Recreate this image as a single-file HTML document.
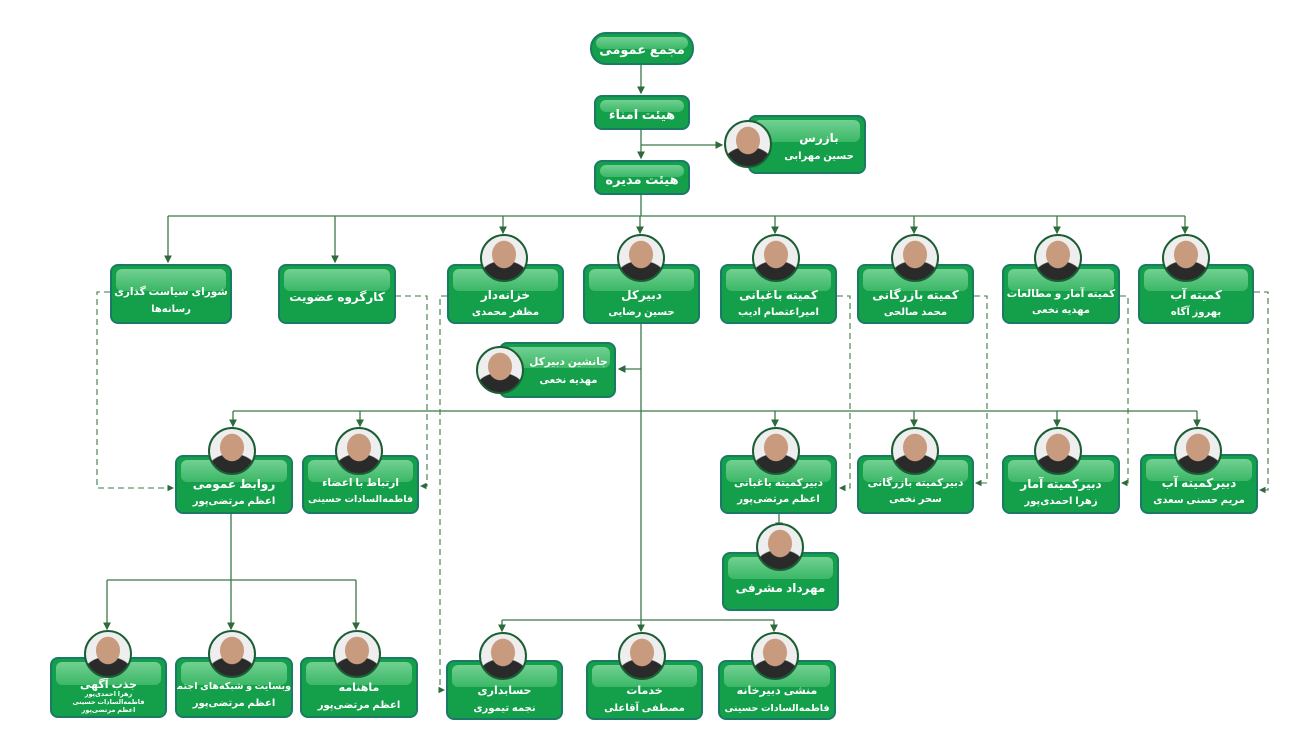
<!DOCTYPE html>
<html><head><meta charset="utf-8">
<style>
html,body{margin:0;padding:0;background:#fff;}
#c{position:relative;width:1314px;height:735px;overflow:hidden;font-family:"Liberation Sans","DejaVu Sans",sans-serif;}
.b{position:absolute;box-sizing:border-box;background:#14a04a;border:2px solid #1b7a66;border-radius:8px;color:#fff;font-weight:bold;direction:rtl;text-align:center;overflow:hidden;}
.b:before{content:"";position:absolute;left:4px;right:4px;top:3px;height:40%;border-radius:6px;background:linear-gradient(#9ae4b2,#4cc272);opacity:.7;}
.b span{position:relative;display:block;white-space:nowrap;}
.t1{font-size:12px;}
.t2{font-size:10px;}
.s{font-size:10.5px;}
.p{position:absolute;width:44px;height:44px;border-radius:50%;border:2px solid #1b5e35;background:radial-gradient(ellipse 28% 32% at 50% 42%,#c89b7e 0 95%,transparent 100%),radial-gradient(ellipse 60% 45% at 50% 100%,#2a2a2a 0 95%,transparent 100%),#eeeeee;}
svg{position:absolute;left:0;top:0;}
</style></head><body><div id="c">
<svg width="1314" height="735">
<defs><marker id="a" markerWidth="6" markerHeight="6" refX="5" refY="3" orient="auto"><path d="M0,0L6,3L0,6z" fill="#2e6b3a"/></marker></defs>
<g stroke="#3b7a48" stroke-width="1.3" fill="none">
<path d="M641 64V93" marker-end="url(#a)"/>
<path d="M641 129V158" marker-end="url(#a)"/>
<path d="M641 145H722" marker-end="url(#a)"/>
<path d="M641 194V216M168 216H1185"/>
<path d="M168 216V262" marker-end="url(#a)"/>
<path d="M335 216V262" marker-end="url(#a)"/>
<path d="M503 216V233" marker-end="url(#a)"/>
<path d="M640 216V233" marker-end="url(#a)"/>
<path d="M775 216V233" marker-end="url(#a)"/>
<path d="M914 216V233" marker-end="url(#a)"/>
<path d="M1057 216V233" marker-end="url(#a)"/>
<path d="M1185 216V233" marker-end="url(#a)"/>
<path d="M641 324V620"/>
<path d="M641 369H619" marker-end="url(#a)"/>
<path d="M233 411H1197"/>
<path d="M233 411V426" marker-end="url(#a)"/>
<path d="M360 411V426" marker-end="url(#a)"/>
<path d="M775 411V426" marker-end="url(#a)"/>
<path d="M914 411V426" marker-end="url(#a)"/>
<path d="M1057 411V426" marker-end="url(#a)"/>
<path d="M1197 411V426" marker-end="url(#a)"/>
<path d="M779 514V529" marker-end="url(#a)"/>
<path d="M231 514V580M107 580H356"/>
<path d="M107 580V629" marker-end="url(#a)"/>
<path d="M231 580V629" marker-end="url(#a)"/>
<path d="M356 580V629" marker-end="url(#a)"/>
<path d="M502 620H774"/>
<path d="M502 620V631" marker-end="url(#a)"/>
<path d="M641 620V631" marker-end="url(#a)"/>
<path d="M774 620V631" marker-end="url(#a)"/>
</g>
<g stroke="#3b7a48" stroke-width="1.1" fill="none" stroke-dasharray="6,4">
<path d="M110 292H97V488H173" marker-end="url(#a)"/>
<path d="M395 296H427V486H421" marker-end="url(#a)"/>
<path d="M447 296H440V690H444" marker-end="url(#a)"/>
<path d="M837 296H850V488H840" marker-end="url(#a)"/>
<path d="M974 296H987V483H976" marker-end="url(#a)"/>
<path d="M1120 296H1128V483H1122" marker-end="url(#a)"/>
<path d="M1254 292H1268V490H1260" marker-end="url(#a)"/>
</g>
</svg>

<div class="b" style="left:590px;top:32px;width:104px;height:33px;border-radius:16px;padding-top:8px"><span class="t1" style="font-size:13px">مجمع عمومی</span></div>
<div class="b" style="left:594px;top:95px;width:96px;height:35px;padding-top:10px"><span class="t1" style="font-size:13px">هیئت امناء</span></div>
<div class="b" style="left:594px;top:160px;width:96px;height:35px;padding-top:10px"><span class="t1" style="font-size:13px">هیئت مدیره</span></div>
<div class="b" style="left:748px;top:115px;width:118px;height:59px;padding-top:14px;padding-left:24px"><span class="t1">بازرس</span><span class="t2" style="margin-top:6px">حسین مهرابی</span></div>
<div class="p" style="left:724px;top:120px"></div>

<div class="b" style="left:110px;top:264px;width:122px;height:60px;padding-top:20px"><span class="t1 s">شورای سیاست گذاری</span><span class="t2" style="margin-top:6px">رسانه‌ها</span></div>
<div class="b" style="left:278px;top:264px;width:118px;height:60px;padding-top:24px"><span class="t1">کارگروه عضویت</span></div>

<div class="b" style="left:447px;top:264px;width:117px;height:60px;padding-top:22px"><span class="t1">خزانه‌دار</span><span class="t2" style="margin-top:5px">مظفر محمدی</span></div>
<div class="p" style="left:480px;top:234px"></div>
<div class="b" style="left:583px;top:264px;width:117px;height:60px;padding-top:22px"><span class="t1">دبیرکل</span><span class="t2" style="margin-top:5px">حسین رضایی</span></div>
<div class="p" style="left:617px;top:234px"></div>
<div class="b" style="left:720px;top:264px;width:117px;height:60px;padding-top:22px"><span class="t1">کمیته باغبانی</span><span class="t2" style="margin-top:5px">امیراعتصام ادیب</span></div>
<div class="p" style="left:752px;top:234px"></div>
<div class="b" style="left:857px;top:264px;width:117px;height:60px;padding-top:22px"><span class="t1">کمیته بازرگانی</span><span class="t2" style="margin-top:5px">محمد صالحی</span></div>
<div class="p" style="left:891px;top:234px"></div>
<div class="b" style="left:1002px;top:264px;width:118px;height:60px;padding-top:22px"><span class="t1 s">کمیته آمار و مطالعات</span><span class="t2" style="margin-top:5px">مهدیه نخعی</span></div>
<div class="p" style="left:1034px;top:234px"></div>
<div class="b" style="left:1138px;top:264px;width:116px;height:60px;padding-top:22px"><span class="t1">کمیته آب</span><span class="t2" style="margin-top:5px">بهروز آگاه</span></div>
<div class="p" style="left:1162px;top:234px"></div>

<div class="b" style="left:499px;top:342px;width:117px;height:56px;padding-top:12px;padding-left:22px"><span class="t1 s">جانشین دبیرکل</span><span class="t2" style="margin-top:7px">مهدیه نخعی</span></div>
<div class="p" style="left:476px;top:346px"></div>

<div class="b" style="left:175px;top:455px;width:118px;height:59px;padding-top:20px"><span class="t1">روابط عمومی</span><span class="t2" style="margin-top:5px">اعظم مرتضی‌پور</span></div>
<div class="p" style="left:208px;top:427px"></div>
<div class="b" style="left:302px;top:455px;width:117px;height:59px;padding-top:20px"><span class="t1 s">ارتباط با اعضاء</span><span class="t2" style="margin-top:5px;font-size:9.5px">فاطمه‌السادات حسینی</span></div>
<div class="p" style="left:335px;top:427px"></div>
<div class="b" style="left:720px;top:455px;width:117px;height:59px;padding-top:20px"><span class="t1 s">دبیرکمیته باغبانی</span><span class="t2" style="margin-top:5px">اعظم مرتضی‌پور</span></div>
<div class="p" style="left:752px;top:427px"></div>
<div class="b" style="left:857px;top:455px;width:117px;height:59px;padding-top:20px"><span class="t1 s">دبیرکمیته بازرگانی</span><span class="t2" style="margin-top:5px">سحر نخعی</span></div>
<div class="p" style="left:891px;top:427px"></div>
<div class="b" style="left:1002px;top:455px;width:118px;height:59px;padding-top:20px"><span class="t1">دبیرکمیته آمار</span><span class="t2" style="margin-top:5px">زهرا احمدی‌پور</span></div>
<div class="p" style="left:1034px;top:427px"></div>
<div class="b" style="left:1140px;top:454px;width:118px;height:60px;padding-top:20px"><span class="t1">دبیرکمیته آب</span><span class="t2" style="margin-top:5px">مریم حسنی سعدی</span></div>
<div class="p" style="left:1174px;top:427px"></div>

<div class="b" style="left:722px;top:552px;width:117px;height:59px;padding-top:27px"><span class="t1">مهرداد مشرفی</span></div>
<div class="p" style="left:756px;top:523px"></div>

<div class="b" style="left:50px;top:657px;width:117px;height:61px;padding-top:19px"><span class="t1" style="font-size:11px">جذب آگهی</span><span style="font-size:6.5px;line-height:8px">زهرا احمدی‌پور</span><span style="font-size:6.5px;line-height:8px">فاطمه‌السادات حسینی</span><span style="font-size:6.5px;line-height:8px">اعظم مرتضی‌پور</span></div>
<div class="p" style="left:84px;top:630px"></div>
<div class="b" style="left:175px;top:657px;width:118px;height:61px;padding-top:22px"><span class="t1" style="font-size:9.5px">وبسایت و شبکه‌های اجتماعی</span><span class="t2" style="margin-top:6px">اعظم مرتضی‌پور</span></div>
<div class="p" style="left:208px;top:630px"></div>
<div class="b" style="left:300px;top:657px;width:118px;height:61px;padding-top:22px"><span class="t1" style="font-size:11px">ماهنامه</span><span class="t2" style="margin-top:6px">اعظم مرتضی‌پور</span></div>
<div class="p" style="left:333px;top:630px"></div>
<div class="b" style="left:446px;top:660px;width:117px;height:60px;padding-top:22px"><span class="t1" style="font-size:11px">حسابداری</span><span class="t2" style="margin-top:6px">نجمه تیموری</span></div>
<div class="p" style="left:479px;top:632px"></div>
<div class="b" style="left:586px;top:660px;width:117px;height:60px;padding-top:22px"><span class="t1" style="font-size:11px">خدمات</span><span class="t2" style="margin-top:6px">مصطفی آقاعلی</span></div>
<div class="p" style="left:618px;top:632px"></div>
<div class="b" style="left:718px;top:660px;width:118px;height:60px;padding-top:22px"><span class="t1" style="font-size:11px">منشی دبیرخانه</span><span class="t2" style="margin-top:6px;font-size:9.5px">فاطمه‌السادات حسینی</span></div>
<div class="p" style="left:751px;top:632px"></div>
</div></body></html>
